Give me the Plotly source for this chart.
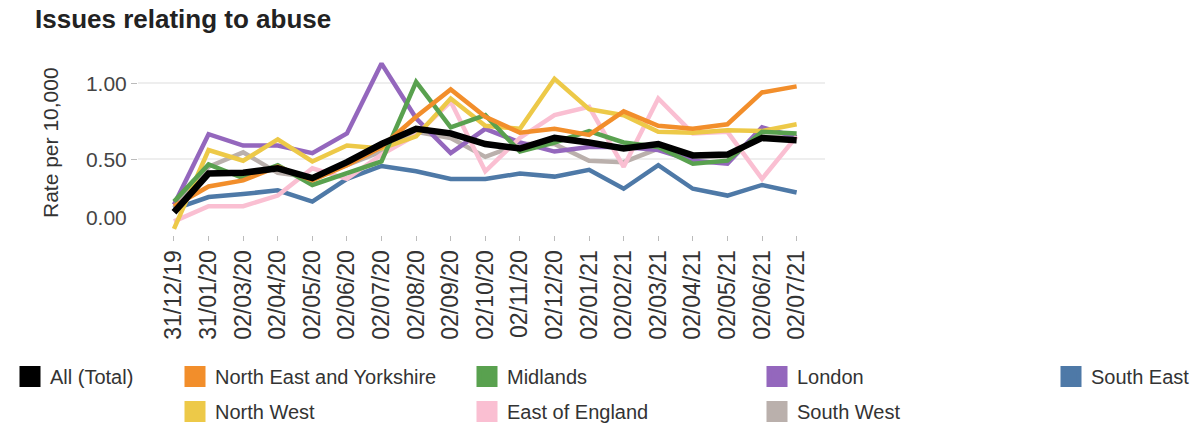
import plotly.graph_objects as go

dates = ["31/12/19", "31/01/20", "02/03/20", "02/04/20", "02/05/20", "02/06/20",
         "02/07/20", "02/08/20", "02/09/20", "02/10/20", "02/11/20", "02/12/20",
         "02/01/21", "02/02/21", "02/03/21", "02/04/21", "02/05/21", "02/06/21",
         "02/07/21"]

all_total = [0.15, 0.405, 0.41, 0.44, 0.375, 0.48, 0.60, 0.70, 0.67, 0.60, 0.57,
             0.64, 0.61, 0.57, 0.60, 0.525, 0.53, 0.64, 0.625]
north_east_yorks = [0.19, 0.32, 0.36, 0.45, 0.36, 0.46, 0.58, 0.78, 0.96, 0.78, 0.675,
                    0.70, 0.66, 0.815, 0.72, 0.70, 0.73, 0.94, 0.98]
midlands = [0.22, 0.465, 0.375, 0.46, 0.33, 0.405, 0.485, 1.01, 0.71, 0.79, 0.55,
            0.61, 0.685, 0.61, 0.58, 0.47, 0.49, 0.68, 0.67]
london = [0.20, 0.665, 0.59, 0.59, 0.54, 0.67, 1.13, 0.77, 0.54, 0.70, 0.61,
          0.55, 0.58, 0.58, 0.56, 0.49, 0.47, 0.71, 0.645]
south_east = [0.17, 0.25, 0.27, 0.295, 0.22, 0.37, 0.455, 0.42, 0.37, 0.37, 0.405,
              0.385, 0.43, 0.305, 0.46, 0.305, 0.26, 0.33, 0.28]
north_west = [0.04, 0.56, 0.49, 0.63, 0.485, 0.59, 0.57, 0.65, 0.90, 0.72, 0.70,
              1.03, 0.83, 0.79, 0.68, 0.675, 0.69, 0.685, 0.73]
east_of_england = [0.09, 0.19, 0.19, 0.26, 0.44, 0.37, 0.53, 0.66, 0.88, 0.42, 0.64,
                   0.79, 0.845, 0.45, 0.90, 0.67, 0.68, 0.37, 0.65]
south_west = [0.18, 0.45, 0.545, 0.41, 0.38, 0.46, 0.55, 0.68, 0.64, 0.515, 0.60,
              0.60, 0.49, 0.48, 0.57, 0.52, 0.52, 0.65, 0.64]

y_tick_vals = [0.5, 1.0]
y_tick_text = ["0.50", "1.00"]

FONT = "Liberation Sans, Arial, sans-serif"
W, H = 1195, 425

series = [
    ("All (Total)", all_total, "#000000", 6.5, "legend"),
    ("North East and Yorkshire", north_east_yorks, "#F28E2B", 4.5, "legend2"),
    ("Midlands", midlands, "#59A14F", 4.5, "legend3"),
    ("London", london, "#9467BD", 4.5, "legend4"),
    ("South East", south_east, "#4E79A7", 4.5, "legend5"),
    ("North West", north_west, "#EDC948", 4.5, "legend2"),
    ("East of England", east_of_england, "#FABFD2", 4.5, "legend3"),
    ("South West", south_west, "#BAB0AC", 4.5, "legend4"),
]

draw_order = ["South West", "South East", "London", "East of England",
              "North West", "Midlands", "North East and Yorkshire", "All (Total)"]

fig = go.Figure()
lookup = {s[0]: s for s in series}
for name in draw_order:
    _, vals, col, w, _ = lookup[name]
    fig.add_trace(go.Scatter(x=dates, y=vals, mode="lines", name=name,
                             line=dict(color=col, width=w), showlegend=False,
                             hoverinfo="x+y+name"))

# legend swatches
for name, vals, col, w, lg in series:
    fig.add_trace(go.Scatter(x=[None], y=[None], mode="markers", name=name,
                             yaxis="y2", legend=lg, legendgroup=name,
                             marker=dict(symbol="square", size=16, color=col,
                                         line=dict(color=col, width=5)),
                             showlegend=True))

ML, MR, MT, MB = 138, 370, 53, 190

legend_common = dict(xref="container", yref="container", orientation="v",
                     xanchor="left", yanchor="top", tracegroupgap=6,
                     font=dict(family=FONT, size=20, color="#333333"),
                     bgcolor="rgba(0,0,0,0)", itemsizing="trace")
centers = {"legend": 32, "legend2": 197, "legend3": 489, "legend4": 779, "legend5": 1073}
layout_legends = {}
for k, cx in centers.items():
    d = dict(legend_common)
    d["x"] = (cx - 22) / W
    d["y"] = 1 - 357 / H
    layout_legends[k] = d

fig.update_layout(
    width=W, height=H,
    margin=dict(l=ML, r=MR, t=MT, b=MB, autoexpand=False),
    paper_bgcolor="white", plot_bgcolor="white",
    font=dict(family=FONT, color="#444444"),
    title=dict(text="<b>Issues relating to abuse</b>", x=35 / W, xref="container",
               xanchor="left", y=1 - 19 / H, yref="container", yanchor="middle",
               font=dict(family=FONT, size=26, color="#222222")),
    xaxis=dict(type="category", range=[-1.04, 18.82], tickangle=-90,
               ticks="outside", ticklen=5, tickcolor="#bbbbbb", showgrid=False,
               showline=False, zeroline=False,
               tickfont=dict(family=FONT, size=23, color="#333333")),
    yaxis=dict(range=[0, 1.2], tickvals=y_tick_vals, ticktext=y_tick_text,
               ticks="outside", ticklen=6, tickcolor="#bbbbbb", showgrid=True,
               gridcolor="#eeeeee", gridwidth=2, zeroline=False, showline=False,
               tickfont=dict(family=FONT, size=21, color="#444444")),
    yaxis2=dict(range=[0, 1.2], overlaying="y", side="left", tickvals=[0],
                ticktext=["0.00"], ticks="outside", ticklen=6,
                tickcolor="rgba(0,0,0,0)", showgrid=False, zeroline=False,
                showline=False, ticklabelshift=-17,
                tickfont=dict(family=FONT, size=21, color="#444444")),
    annotations=[dict(text="Rate per 10,000", textangle=-90, xref="paper",
                      yref="paper", x=(50 - ML) / (W - ML - MR), xanchor="center",
                      y=1 - (143 - MT) / (H - MT - MB), yanchor="middle",
                      showarrow=False,
                      font=dict(family=FONT, size=21, color="#333333"))],
    **layout_legends,
)

fig.write_html("out.html", config={"displayModeBar": False},
               post_script="document.body.style.margin='0';")
